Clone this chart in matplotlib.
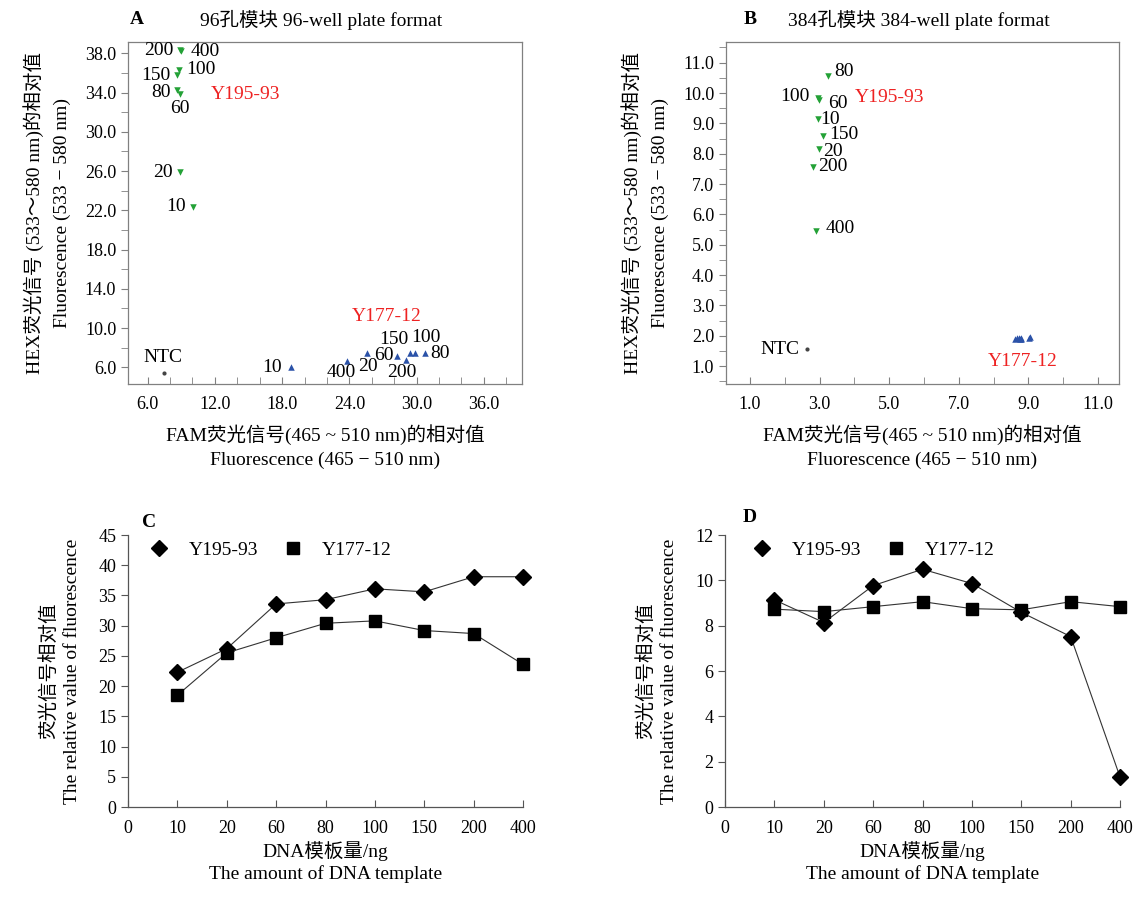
import matplotlib
matplotlib.use('Agg')
import matplotlib.pyplot as plt
from matplotlib.ticker import MultipleLocator, FormatStrFormatter
from matplotlib.lines import Line2D

plt.rcParams['font.family'] = ['Liberation Serif', 'Noto Sans CJK SC']
plt.rcParams['axes.unicode_minus'] = False

# 模板量 (ng)
doses = ['10', '20', '60', '80', '100', '150', '200', '400']

# A: 96孔模块 (FAM, HEX)
a_y195_fam = [10.03, 8.87, 8.87, 8.60, 8.78, 8.58, 8.90, 9.00]
a_y195_hex = [22.36, 25.9, 33.9, 34.26, 36.3, 35.8, 38.3, 38.2]
a_y177_fam = [18.83, 25.58, 28.25, 30.74, 29.85, 29.4, 29.05, 23.8]
a_y177_hex = [6.03, 7.43, 7.12, 7.5, 7.5, 7.43, 6.7, 6.6]
a_ntc = (7.45, 5.46)

# B: 384孔模块
b_y195_fam = [2.94, 2.97, 2.97, 3.23, 2.94, 3.11, 2.80, 2.89]
b_y195_hex = [9.13, 8.15, 9.78, 10.57, 9.85, 8.57, 7.56, 5.46]
b_y177_fam = [8.72, 8.60, 8.80, 9.05, 8.75, 8.66, 9.03, 8.78]
b_y177_hex = [1.92, 1.90, 1.92, 1.95, 1.90, 1.92, 1.93, 1.90]
b_ntc = (2.63, 1.56)

# C / D: 荧光信号相对值
c_y195 = [22.3, 26.2, 33.6, 34.3, 36.1, 35.6, 38.1, 38.1]
c_y177 = [18.5, 25.5, 28.0, 30.4, 30.8, 29.2, 28.7, 23.6]
d_y195 = [9.14, 8.14, 9.77, 10.49, 9.86, 8.59, 7.52, 1.32]
d_y177 = [8.73, 8.62, 8.84, 9.06, 8.75, 8.70, 9.06, 8.84]

# 标注偏移 (像素)
a_y195_off = [(-17, 0), (-17, 0), (0, -15), (-16, -2), (22, 0), (-21, -1), (-21, 0), (24, 0)]
a_y177_off = [(-19, 0), (1, -13), (-13, 1), (15, -1), (11, 15), (-16, 14), (-4, -12), (-6, -11)]
b_y195_off = [(13, 0), (14, -2), (19, -4), (16, 4), (-23, 1), (20, 2), (20, 1), (24, 2)]

green = '#23a136'
blue = '#2b52a8'
red = '#ee2222'
spine_c = '#808080'
fs = 13
lfs = 14

fig = plt.figure(figsize=(11.42, 8.98), dpi=100)

ax_a = fig.add_axes([0.1121, 0.5724, 0.3450, 0.3808])
ax_b = fig.add_axes([0.6357, 0.5724, 0.3441, 0.3808])
ax_c = fig.add_axes([0.1121, 0.1013, 0.3459, 0.3029])
ax_d = fig.add_axes([0.6349, 0.1013, 0.3459, 0.3029])


def scatter_panel(ax, gx, gy, bx, by, ntc, offs_g, offs_b, ntc_off):
    ax.scatter(gx, gy, marker='v', s=22, color=green, linewidths=0, zorder=3)
    ax.scatter(bx, by, marker='^', s=22, color=blue, linewidths=0, zorder=3)
    ax.scatter([ntc[0]], [ntc[1]], marker='o', s=9, color='#444444', linewidths=0, zorder=3)
    for x, y, lab, off in zip(gx, gy, doses, offs_g):
        ax.annotate(lab, (x, y), xytext=off, textcoords='offset pixels',
                    ha='center', va='center', fontsize=lfs)
    if offs_b is not None:
        for x, y, lab, off in zip(bx, by, doses, offs_b):
            ax.annotate(lab, (x, y), xytext=off, textcoords='offset pixels',
                        ha='center', va='center', fontsize=lfs)
    ax.annotate('NTC', ntc, xytext=ntc_off, textcoords='offset pixels',
                ha='center', va='center', fontsize=lfs)
    for s in ax.spines.values():
        s.set_color(spine_c)
        s.set_linewidth(0.9)
    ax.tick_params(axis='x', which='both', direction='in', length=5, color=spine_c, labelsize=fs, pad=9)
    ax.tick_params(axis='y', which='both', direction='out', length=5, color=spine_c, labelsize=fs)
    ax.xaxis.set_major_formatter(FormatStrFormatter('%.1f'))
    ax.yaxis.set_major_formatter(FormatStrFormatter('%.1f'))
    ax.set_xlabel('FAM荧光信号(465 ~ 510 nm)的相对值\nFluorescence (465 − 510 nm)',
                  fontsize=lfs, linespacing=1.45, labelpad=8)
    ax.set_ylabel('HEX荧光信号 (533～580 nm)的相对值\nFluorescence (533 − 580 nm)',
                  fontsize=lfs, linespacing=1.75, labelpad=10)


# A
scatter_panel(ax_a, a_y195_fam, a_y195_hex, a_y177_fam, a_y177_hex, a_ntc,
              a_y195_off, a_y177_off, (-1, 15))
ax_a.set_xlim(4.25, 39.4)
ax_a.set_ylim(4.3, 39.15)
ax_a.xaxis.set_minor_locator(MultipleLocator(2))
ax_a.yaxis.set_minor_locator(MultipleLocator(2))
ax_a.set_xticks([6, 12, 18, 24, 30, 36])
ax_a.set_yticks([6, 10, 14, 18, 22, 26, 30, 34, 38])
ax_a.text(14.74, 33.76, 'Y195-93', color=red, fontsize=lfs, ha='center', va='center')
ax_a.text(27.36, 11.16, 'Y177-12', color=red, fontsize=lfs, ha='center', va='center')
ax_a.text(0.005, 1.065, 'A', transform=ax_a.transAxes, fontsize=lfs, fontweight='bold', ha='left', va='center')
ax_a.text(0.49, 1.065, '96孔模块 96-well plate format', transform=ax_a.transAxes,
          fontsize=lfs, ha='center', va='center')

# B
scatter_panel(ax_b, b_y195_fam, b_y195_hex, b_y177_fam, b_y177_hex, b_ntc,
              b_y195_off, None, (-27, 0))
ax_b.set_xlim(0.31, 11.6)
ax_b.set_ylim(0.41, 11.68)
ax_b.xaxis.set_minor_locator(MultipleLocator(1))
ax_b.yaxis.set_minor_locator(MultipleLocator(0.5))
ax_b.set_xticks([1, 3, 5, 7, 9, 11])
ax_b.set_yticks([1, 2, 3, 4, 5, 6, 7, 8, 9, 10, 11])
ax_b.text(5.02, 9.86, 'Y195-93', color=red, fontsize=lfs, ha='center', va='center')
ax_b.text(8.84, 1.16, 'Y177-12', color=red, fontsize=lfs, ha='center', va='center')
ax_b.text(0.045, 1.065, 'B', transform=ax_b.transAxes, fontsize=lfs, fontweight='bold', ha='left', va='center')
ax_b.text(0.49, 1.065, '384孔模块 384-well plate format', transform=ax_b.transAxes,
          fontsize=lfs, ha='center', va='center')


def line_panel(ax, y195, y177, ymax, ystep, letter, leg_x, let_x, let_y):
    pos = list(range(1, len(doses) + 1))
    ax.plot(pos, y195, color='#333333', lw=0.8, marker='D', ms=8,
            mfc='black', mec='black', zorder=3, clip_on=False)
    ax.plot(pos, y177, color='#333333', lw=0.8, marker='s', ms=8,
            mfc='black', mec='black', zorder=3, clip_on=False)
    ax.set_xlim(0, len(doses))
    ax.set_ylim(0, ymax)
    ax.set_xticks([0] + pos)
    ax.set_xticklabels(['0'] + doses)
    ax.yaxis.set_major_locator(MultipleLocator(ystep))
    ax.spines['top'].set_visible(False)
    ax.spines['right'].set_visible(False)
    for s in ('left', 'bottom'):
        ax.spines[s].set_color('#555555')
        ax.spines[s].set_linewidth(0.9)
    ax.tick_params(axis='x', direction='in', length=5, color='#555555', labelsize=fs, pad=9)
    ax.tick_params(axis='y', direction='out', length=5, color='#555555', labelsize=fs)
    handles = [Line2D([], [], ls='none', marker='D', ms=8, color='black'),
               Line2D([], [], ls='none', marker='s', ms=8, color='black')]
    ax.legend(handles, ['Y195-93', 'Y177-12'], ncol=2, frameon=False, loc='upper left',
              bbox_to_anchor=(leg_x, 1.02), fontsize=lfs, handlelength=1.0,
              handletextpad=1.0, columnspacing=1.3, borderaxespad=0.2)
    ax.set_xlabel('DNA模板量/ng\nThe amount of DNA template', fontsize=lfs,
                  linespacing=1.35, labelpad=3)
    ax.set_ylabel('荧光信号相对值\nThe relative value of fluorescence', fontsize=lfs,
                  linespacing=1.5, labelpad=12)
    ax.text(let_x, let_y, letter, transform=ax.transAxes, fontsize=lfs,
            fontweight='bold', ha='left', va='center')


line_panel(ax_c, c_y195, c_y177, 45, 5, 'C', 0.025, 0.035, 1.045)
line_panel(ax_d, d_y195, d_y177, 12, 2, 'D', 0.04, 0.045, 1.065)

fig.savefig('out.png', dpi=100, facecolor='white')
